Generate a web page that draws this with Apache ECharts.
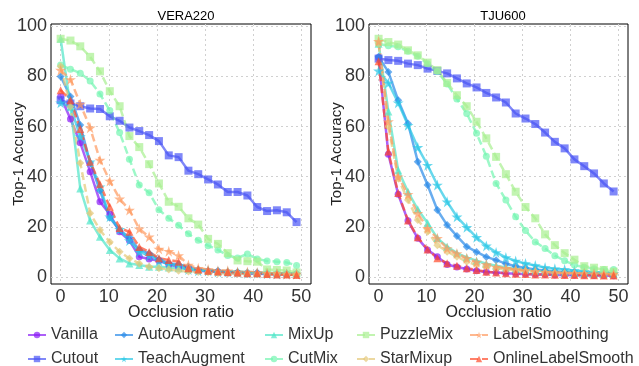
<!DOCTYPE html>
<html>
<head>
<meta charset="utf-8">
<script src="https://cdn.jsdelivr.net/npm/echarts@6/dist/echarts.min.js"></script>
<style>
  html, body { margin: 0; padding: 0; background: #fff; }
  #chart { width: 639px; height: 366px; }
</style>
</head>
<body>
<div id="chart"></div>
<script>
// occlusion ratio (x) shared by both panels
var occl = [0, 2.04, 4.08, 6.13, 8.17, 10.21, 12.25, 14.29, 16.33, 18.38, 20.42, 22.46, 24.5,
            26.54, 28.58, 30.63, 32.67, 34.71, 36.75, 38.79, 40.83, 42.88, 44.92, 46.96, 49];
var xTicks = [0, 10, 20, 30, 40, 50];
var yTicks = [0, 20, 40, 60, 80, 100];
var methods = ['Vanilla', 'Cutout', 'AutoAugment', 'TeachAugment', 'MixUp',
               'CutMix', 'PuzzleMix', 'StarMixup', 'LabelSmoothing', 'OnlineLabelSmooth'];

// VERA220
var vera_vanilla = [72, 63, 53.5, 42, 30, 25, 18, 14.5, 8.1, 7.2, 6.5, 5, 4, 3, 2.5, 2.2, 2, 1.6, 1.5, 1.3, 1.3, 1.2, 1.1, 1, 1];
var vera_cutout = [70.5, 69.2, 68.1, 67.2, 67, 64.1, 62.3, 59.6, 58.2, 56.6, 54.2, 48.5, 47.8, 42.4, 41, 38.9, 36.9, 33.9, 33.9, 32.5, 27.9, 26.3, 26.6, 25.8, 21.9];
var vera_autoaug = [80, 72, 60.6, 45.5, 34.5, 23.6, 18.6, 15.8, 10.8, 9.4, 7, 5.5, 5, 4, 3, 2.5, 2.5, 2, 2, 1.8, 1.8, 1.5, 1.5, 1.5, 1.5];
var vera_teach = [69.5, 68, 56, 46, 36, 24, 19, 14.5, 10, 8.5, 6.5, 5, 4.5, 3, 2.5, 2.5, 2, 2, 1.8, 1.5, 1.5, 1.3, 1.2, 1.2, 1.2];
var vera_mixup = [95, 68, 35.3, 22.5, 16, 10.8, 7.4, 5.4, 4.8, 4.1, 4.1, 3.8, 3.5, 3.2, 3, 2.8, 2.5, 2.3, 2.2, 2, 1.8, 1.7, 1.6, 1.5, 1.5];
var vera_cutmix = [84.5, 82.9, 81.3, 78.2, 73, 66.4, 57.6, 47, 36.7, 33.6, 26.8, 23.4, 20.6, 17.2, 14.6, 12.5, 10.8, 8.6, 7.6, 9.2, 7.2, 6.4, 6.1, 5.8, 4.6];
var vera_puzzle = [95, 94.3, 92, 87.8, 82, 74.1, 68.1, 56.2, 51.8, 45, 37.3, 30, 28, 23.4, 20.9, 15.2, 13.2, 9.5, 6.6, 6.3, 6.1, 3, 2.8, 2.6, 1.8];
var vera_starmix = [84, 68, 45.5, 25.4, 18.7, 14, 10.1, 7.4, 5.4, 4.1, 3.5, 3, 2.5, 2.2, 2, 1.8, 1.5, 1.4, 1.3, 1.2, 1.1, 1, 1, 0.9, 0.9];
var vera_ls = [82.5, 78.8, 69, 59.5, 46.6, 38.3, 31.2, 26.7, 19.2, 16, 11.2, 10.3, 8.6, 4.8, 3.5, 3, 2.5, 2.5, 2, 2, 1.8, 1.5, 1.5, 1.2, 1.2];
var vera_ols = [74.5, 70.5, 59, 46, 37, 28, 19.5, 18, 12, 10, 7.5, 6.8, 6.1, 3.5, 3, 2.5, 2.2, 2, 1.8, 1.5, 1.5, 1.2, 1, 1, 0.8];

// TJU600
var tju_vanilla = [87.5, 49, 33, 22.4, 15.4, 10.8, 8.1, 5, 4, 3.2, 2.5, 2, 1.8, 1.5, 1.3, 1.2, 1, 1, 0.8, 0.8, 0.7, 0.7, 0.6, 0.6, 0.5];
var tju_cutout = [87.1, 86.5, 86.2, 85.1, 84.5, 83.1, 82.2, 81.2, 79.2, 77.2, 75.6, 73.4, 71.6, 69.6, 65.2, 63.2, 61, 57.6, 53.9, 51.3, 46.9, 44.2, 41.3, 37.3, 34.1];
var tju_autoaug = [87.8, 81.8, 70.5, 61.2, 46, 36.7, 26.7, 20.7, 16.3, 12.1, 10, 8, 6.7, 5.3, 4.3, 3.6, 3, 2.6, 2.2, 2, 1.8, 1.6, 1.4, 1.3, 1.2];
var tju_teach = [82.2, 77.4, 69.5, 60.5, 51.7, 44.6, 36.7, 30, 24, 19.8, 15.8, 12.4, 9.8, 7.8, 6.4, 5.4, 4.6, 3.8, 3.3, 3, 2.6, 2.2, 1.9, 1.7, 1.5];
var tju_mixup = [93, 66, 42.6, 34, 27, 21.5, 15.5, 12.1, 9.5, 7.8, 6.5, 5.3, 4.5, 3.8, 3.3, 2.9, 2.5, 2.2, 2, 1.8, 1.6, 1.5, 1.4, 1.3, 1.2];
var tju_cutmix = [93, 92.2, 91.8, 90, 88, 85, 82, 77, 71, 65.2, 57.3, 48.2, 37.3, 30.7, 24, 18.5, 14, 11.4, 8.5, 6.5, 4.8, 3.9, 3.3, 3, 3];
var tju_puzzle = [95, 93.7, 92.7, 90.4, 88.4, 85.5, 82.5, 77.4, 72.5, 68.1, 61.9, 55.3, 47.9, 41, 34, 27.9, 23.4, 17, 12.7, 9.5, 6.9, 4.3, 3.7, 2.8, 2.1];
var tju_starmix = [93, 60, 39.3, 30.7, 22.7, 18, 12.7, 10.1, 8.1, 6.1, 4.8, 4, 3.5, 3, 2.6, 2.3, 2, 1.8, 1.6, 1.5, 1.4, 1.3, 1.2, 1.1, 1];
var tju_ls = [94, 62, 40, 33, 25.4, 19.4, 15.4, 11.4, 9.4, 7.5, 6, 5, 4, 3.5, 3, 2.6, 2.3, 2, 1.8, 1.6, 1.5, 1.4, 1.3, 1.2, 1.2];
var tju_ols = [86, 50, 33.5, 22.5, 15.8, 11, 7.5, 5.5, 4.5, 3.5, 2.8, 2.1, 1.8, 1.5, 1.3, 1.2, 1, 1, 0.9, 0.8, 0.8, 0.7, 0.7, 0.6, 0.6];

var veraData = [vera_vanilla, vera_cutout, vera_autoaug, vera_teach, vera_mixup,
                vera_cutmix, vera_puzzle, vera_starmix, vera_ls, vera_ols];
var tjuData = [tju_vanilla, tju_cutout, tju_autoaug, tju_teach, tju_mixup,
               tju_cutmix, tju_puzzle, tju_starmix, tju_ls, tju_ols];

var STAR = 'path://M50,0 L61,35 L98,35 L68,57 L79,91 L50,70 L21,91 L32,57 L2,35 L39,35 Z';
var colors = ['#8a1cf5', '#4a55f5', '#2a8ae8', '#28c8e6', '#4ee6c8',
              '#74f5b0', '#a8f090', '#e4c878', '#ff9a60', '#ff4a2a'];
var symbols = ['circle', 'rect', 'diamond', STAR, 'triangle',
               'circle', 'rect', 'diamond', STAR, 'triangle'];
var sizes = [7, 8, 8, 11, 8, 7, 8, 8, 11, 8];
var FONT = 'Liberation Sans';

var chart = echarts.init(document.getElementById('chart'));

function makeSeries(dataList, idx) {
    return dataList.map(function (vals, i) {
        return {
            name: methods[i],
            type: 'line',
            xAxisIndex: idx,
            yAxisIndex: idx,
            data: occl.map(function (x, k) { return [x, vals[k]]; }),
            symbol: symbols[i],
            symbolSize: sizes[i],
            showSymbol: true,
            color: colors[i],
            lineStyle: { width: 2.5, type: i >= 5 ? [8, 4] : 'solid', opacity: 0.7 },
            itemStyle: { opacity: 0.7 }
        };
    });
}

function xAx(idx) {
    return {
        type: 'value', gridIndex: idx, min: -2, max: 52,
        name: 'Occlusion ratio', nameLocation: 'middle', nameGap: 21, nameMoveOverlap: false,
        nameTextStyle: { fontFamily: FONT, fontSize: 16, color: '#222' },
        axisLine: { show: false },
        axisTick: { show: false, customValues: xTicks },
        axisLabel: { customValues: xTicks, fontFamily: FONT, fontSize: 18, color: '#333', margin: 4 },
        splitLine: { show: true, lineStyle: { color: '#d0d0d0', type: [2, 3], width: 1 } }
    };
}

function yAx(idx) {
    return {
        type: 'value', gridIndex: idx, min: -2.8, max: 100.9,
        name: 'Top-1 Accuracy', nameLocation: 'middle', nameGap: 25, nameMoveOverlap: false,
        nameTextStyle: { fontFamily: FONT, fontSize: 15, color: '#222' },
        axisLine: { show: false },
        axisTick: { show: false, customValues: yTicks },
        axisLabel: { customValues: yTicks, fontFamily: FONT, fontSize: 18, color: '#333', margin: 4 },
        splitLine: { show: true, lineStyle: { color: '#d0d0d0', type: [2, 3], width: 1 } }
    };
}

// five legend columns, two rows each (matplotlib fills column-wise)
var legendCols = [27, 114, 264, 356, 469];
var legends = legendCols.map(function (lx, c) {
    return {
        orient: 'vertical', left: lx, top: 327, height: 60, padding: 0,
        itemWidth: 18, itemHeight: 8, itemGap: 8,
        data: [methods[c * 2], methods[c * 2 + 1]],
        textStyle: { fontFamily: FONT, fontSize: 16, color: '#333', lineHeight: 16 }
    };
});

var option = {
    animation: false,
    backgroundColor: '#fff',
    title: [
        { text: 'VERA220', left: 181, top: 5, textAlign: 'center',
          textStyle: { fontFamily: FONT, fontSize: 13, fontWeight: 'normal', color: '#000' } },
        { text: 'TJU600', left: 498, top: 5, textAlign: 'center',
          textStyle: { fontFamily: FONT, fontSize: 13, fontWeight: 'normal', color: '#000' } }
    ],
    legend: legends,
    grid: [
        { left: 51, top: 24, width: 260, height: 260, show: true, borderColor: '#000', borderWidth: 1 },
        { left: 369, top: 24, width: 259, height: 260, show: true, borderColor: '#000', borderWidth: 1 }
    ],
    xAxis: [xAx(0), xAx(1)],
    yAxis: [yAx(0), yAx(1)],
    series: makeSeries(veraData, 0).concat(makeSeries(tjuData, 1))
};

chart.setOption(option);
</script>
</body>
</html>
